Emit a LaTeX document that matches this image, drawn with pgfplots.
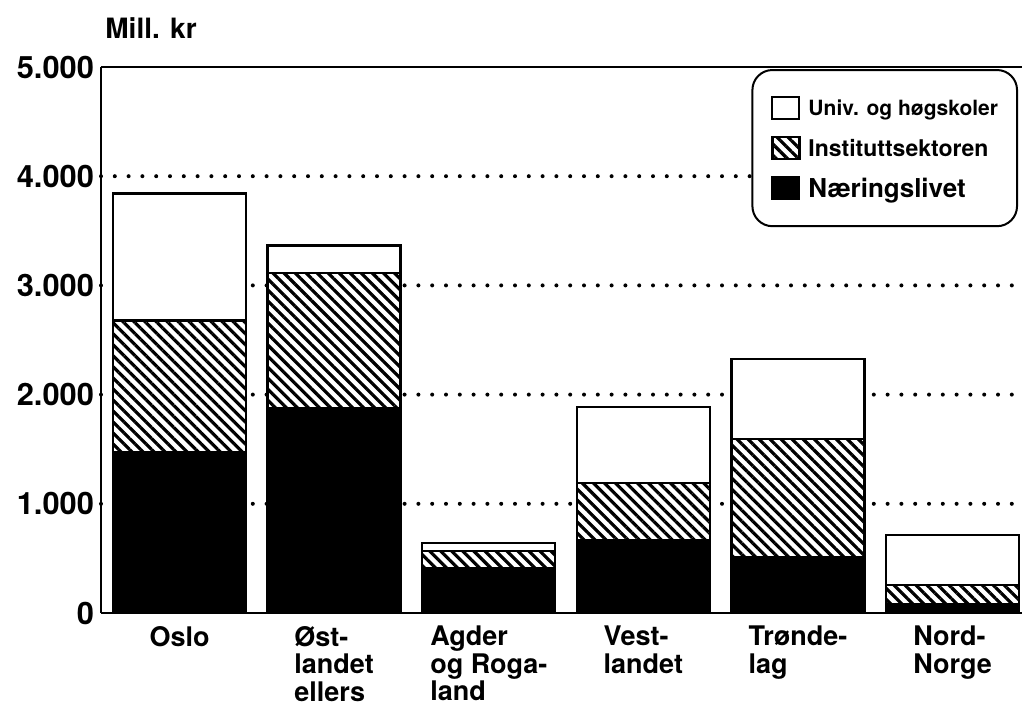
\documentclass[border=0pt]{standalone}
\usepackage{fontspec}
\setmainfont{TeX Gyre Heros}
\usepackage{pgfplots}
\usepackage{pgfplotstable}
\pgfplotsset{compat=1.18}
\usetikzlibrary{patterns.meta}

% Mill. kr per region: naeringsliv (bottom), institutt (middle), univ (top)
\pgfplotstableread{
x naering institutt univ
0 1468 1212 1163
1 1875 1236 253
2 412  156  73
3 668  522  696
4 513  1080 733
5 82   174  458
}\regiondata

\newcommand{\rowstrut}{\rule[-2.5pt]{0pt}{10.5pt}}
\newcommand{\laststrut}{\rule[-6.5pt]{0pt}{14.5pt}}

\begin{document}
\begin{tikzpicture}
  \begin{axis}[
      scale only axis, width=460.5pt, height=273pt,
      clip=false,
      ybar stacked, bar width=66.5pt,
      xmin=-0.508, xmax=5.449, ymin=0, ymax=5000,
      axis x line*=bottom, axis y line*=left,
      axis line style={line width=1.2pt},
      major tick length=0pt,
      xtick=data,
      xticklabels={Oslo, {Øst-\\landet\\ellers}, {Agder\\og Roga-\\land},
                   {Vest-\\landet}, {Trønde-\\lag}, {Nord-\\Norge}},
      xticklabel style={font=\fontsize{13.5}{13.8}\selectfont\bfseries,
                        align=left, anchor=north, yshift=-3pt},
      ytick={0,1000,...,5000},
      yticklabel style={font=\fontsize{15.4}{16}\selectfont\bfseries},
      /pgf/number format/assume math mode=true,
      /pgf/number format/1000 sep={.},
      extra y ticks={1000,2000,3000,4000},
      extra y tick labels={},
      extra y tick style={grid=major},
      major grid style={black, line width=2pt, line cap=round,
                        dash pattern=on 0pt off 6.9pt},
      reverse legend,
      legend cell align=left,
      legend style={at={(0.9957,0.9963)}, anchor=north east,
                    draw=black, line width=1pt, rounded corners=10pt,
                    inner xsep=9.5pt, inner ysep=13pt, row sep=8pt,
                    nodes={inner sep=0pt, font=\bfseries}},
      segment/.style={draw=black, line width=1.2pt,
                      legend image code/.code={
                        \draw[##1, line width=1pt, sharp corners]
                          (0pt,-5pt) rectangle (13.5pt,6pt);}},
    ]
    \addplot[segment, fill=black] table[x=x, y=naering] {\regiondata};
    \addlegendentry{\hspace*{4pt}\fontsize{13}{14}\selectfont Næringslivet\laststrut}
    \addplot[segment, preaction={fill=white},
             pattern={Lines[angle=-45, distance=3.9pt, line width=1.6pt]}]
      table[x=x, y=institutt] {\regiondata};
    \addlegendentry{\hspace*{4pt}\fontsize{11.5}{13}\selectfont Instituttsektoren\rowstrut}
    \addplot[segment, fill=white] table[x=x, y=univ] {\regiondata};
    \addlegendentry{\hspace*{4pt}\fontsize{10.5}{12}\selectfont Univ. og høgskoler\rowstrut}

    \draw[line width=1.2pt, solid] (rel axis cs:0,1) -- (rel axis cs:1,1);
    \node[anchor=base west, inner sep=0pt, xshift=2pt, yshift=14.5pt,
          font=\fontsize{14}{14}\selectfont\bfseries]
      at (rel axis cs:0,1) {Mill. kr};
  \end{axis}
  \pgfresetboundingbox
  \useasboundingbox (-50.5pt,-46.5pt) rectangle (460.5pt,306.5pt);
\end{tikzpicture}
\end{document}
